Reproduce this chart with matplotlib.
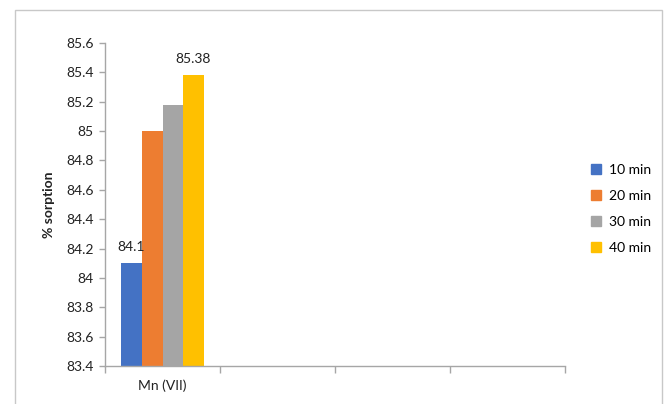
import matplotlib.pyplot as plt
import matplotlib.patches as mpatches
import numpy as np

# Sorption of Mn(VII) against contact time
categories = ["Mn (VII)", "", "", ""]
series = ["10 min", "20 min", "30 min", "40 min"]
values = {
    "10 min": [84.1],
    "20 min": [85.0],
    "30 min": [85.18],
    "40 min": [85.38],
}
labelled = {"10 min": "84.1", "40 min": "85.38"}
yticks = [83.4, 83.6, 83.8, 84, 84.2, 84.4, 84.6, 84.8, 85, 85.2, 85.4, 85.6]

COLORS = ["#4472C4", "#ED7D31", "#A5A5A5", "#FFC000"]
AXIS_GREY = "#A6A6A6"
FONT = "Lato"
FS = 10

fig = plt.figure(figsize=(6.7, 4.04), dpi=100)
ax = fig.add_axes([105 / 670, 1 - 366 / 404, 460 / 670, 323 / 404])

# outer chart frame
frame = mpatches.Rectangle((15 / 670, -0.1), 647 / 670, (394 / 404) + 0.1,
                           transform=fig.transFigure, fill=False,
                           edgecolor="#C8C8C8", linewidth=1.0)
fig.patches.append(frame)

bar_w = 0.18
offsets = (np.arange(len(series)) - 1.5) * bar_w
x = np.arange(len(categories))

handles = []
for i, (name, color) in enumerate(zip(series, COLORS)):
    vals = values[name]
    xs = x[:len(vals)] + offsets[i]
    ax.bar(xs, np.array(vals) - 83.4, bottom=83.4, width=bar_w,
           color=color, edgecolor="none", zorder=2)
    if name in labelled:
        ax.text(xs[0], vals[0] + 0.07, labelled[name], ha="center",
                va="bottom", fontsize=FS, family=FONT, color="#222222")
    handles.append(mpatches.Patch(color=color, label=name))

ax.set_ylim(83.4, 85.6)
ax.set_xlim(-0.5, len(categories) - 0.5)
ax.set_yticks(yticks)
ax.set_yticklabels([f"{t:g}" for t in yticks], family=FONT, fontsize=FS,
                   color="#222222")
ax.set_xticks(x)
ax.set_xticklabels(categories, family=FONT, fontsize=FS, color="#222222")
ax.set_xticks(np.arange(len(categories) + 1) - 0.5, minor=True)
ax.tick_params(axis="x", which="major", length=0, pad=10)
ax.tick_params(axis="x", which="minor", length=5, color=AXIS_GREY, width=1)
ax.tick_params(axis="y", length=4, color=AXIS_GREY, width=1, pad=4)

for side in ("top", "right"):
    ax.spines[side].set_visible(False)
for side in ("left", "bottom"):
    ax.spines[side].set_color(AXIS_GREY)
    ax.spines[side].set_linewidth(1)

ax.set_ylabel("% sorption", family=FONT, fontsize=FS, fontweight="bold",
              color="#222222", labelpad=8)

fig.legend(handles=handles, loc="center left",
           bbox_to_anchor=(578 / 670, 1 - 209 / 404), frameon=False,
           prop={"family": FONT, "size": FS}, handlelength=0.75,
           handleheight=0.75, handletextpad=0.6, labelspacing=1.0)

fig.savefig("out.png", dpi=100, facecolor="white")
